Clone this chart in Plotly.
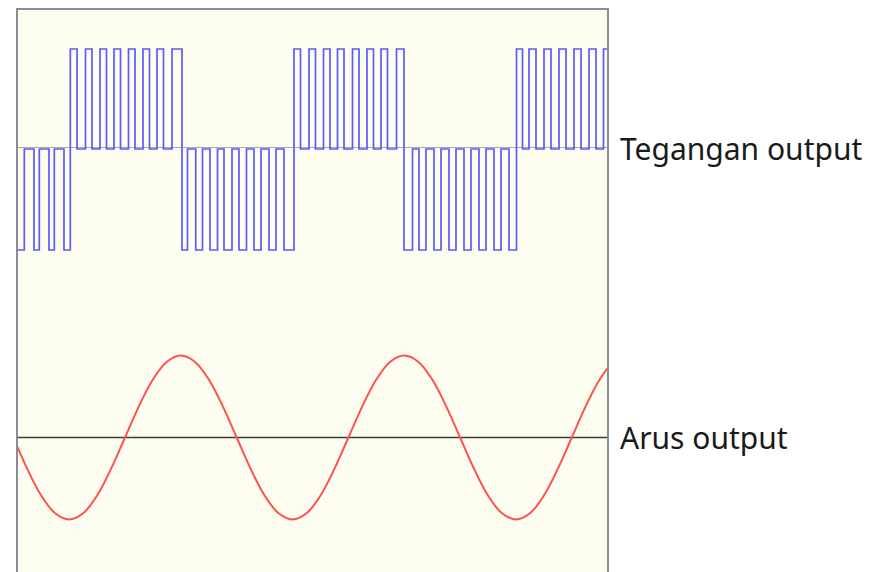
import plotly.graph_objects as go

# ---- data (time axis in arbitrary units, 0 = left edge of plot) ----
# voltage levels
v_high = 523
v_mid = 423
v_low = 322
v_ref_line = 424.5          # light grey reference line of the voltage trace
i_zero = 134.5              # zero line of the current trace

# PWM pulse segments: (polarity, list of [on, off] times)
seg_polarity = [-1, 1, -1, 1, -1, 1]
seg_pulses = [
    [[-1, 6.3], [16, 21.3], [31, 36.3], [46, 52.3]],
    [[52.3, 59], [67.5, 74], [82, 88.5], [96, 102.5], [110.5, 117], [125, 131.5], [139, 145.5], [154, 164]],
    [[164, 169.5], [177.75, 184.5], [192, 199.5], [206, 214], [221, 228.5], [236, 243], [251, 258], [266, 276]],
    [[276, 282.5], [291, 297.5], [305.5, 312], [319.5, 326], [334.5, 341], [349, 355.5], [363, 369.5], [378.5, 386]],
    [[386, 394.5], [401, 408], [416, 423], [431, 438], [446, 453], [461, 468], [476, 483], [491, 498.5]],
    [[498.5, 504.5], [511, 518], [526, 533], [541, 548], [556, 563], [571, 578], [585.5, 593]],
]

# current (sine)
cur_t = [-32.6, -18.7, -4.7, 9.3, 23.2, 37.2, 51.2, 65.1, 79.1, 93.0,
         107.0, 121.0, 134.9, 148.9, 162.9, 176.8, 190.8, 204.7, 218.7, 232.7,
         246.6, 260.6, 274.6, 288.5, 302.5, 316.4, 330.4, 344.4, 358.3, 372.3,
         386.3, 400.2, 414.2, 428.1, 442.1, 456.1, 470.0, 484.0, 498.0, 511.9,
         525.9, 539.8, 553.8, 567.8, 581.7, 595.7, 609.7]
cur_v = [192.5, 165.9, 134.5, 103.1, 76.5, 58.7, 52.5, 58.7, 76.5, 103.1,
         134.5, 165.9, 192.5, 210.3, 216.5, 210.3, 192.5, 165.9, 134.5, 103.1,
         76.5, 58.7, 52.5, 58.7, 76.5, 103.1, 134.5, 165.9, 192.5, 210.3,
         216.5, 210.3, 192.5, 165.9, 134.5, 103.1, 76.5, 58.7, 52.5, 58.7,
         76.5, 103.1, 134.5, 165.9, 192.5, 210.3, 216.5]

labels = ["Tegangan output", "Arus output"]

t_min, t_max = 0, 589
y_min, y_max = 0, 562

# ---- build voltage step trace ----
vx, vy = [], []
for pol, pulses in zip(seg_polarity, seg_pulses):
    active = v_high if pol > 0 else v_low
    for on, off in pulses:
        vx += [on, on, off, off]
        vy += [v_mid, active, active, v_mid]

fig = go.Figure()

fig.add_trace(go.Scatter(x=[t_min - 10, t_max + 10], y=[v_ref_line, v_ref_line], mode="lines",
                         line=dict(color="#a8a8a8", width=1), hoverinfo="skip"))
fig.add_trace(go.Scatter(x=[t_min - 10, t_max + 10], y=[i_zero, i_zero], mode="lines",
                         line=dict(color="#3a3a3a", width=1.6), hoverinfo="skip"))
fig.add_trace(go.Scatter(x=vx, y=vy, mode="lines",
                         line=dict(color="#5a5aff", width=1.7), hoverinfo="skip"))
fig.add_trace(go.Scatter(x=cur_t, y=cur_v, mode="lines",
                         line=dict(color="#ff5050", width=2, shape="spline", smoothing=1.0),
                         hoverinfo="skip"))

for txt, yv in zip(labels, [v_mid + 1, i_zero]):
    fig.add_annotation(text=txt, xref="paper", x=1, xanchor="left", xshift=11,
                       yref="y", y=yv, yanchor="middle", showarrow=False,
                       font=dict(family="Noto Sans", size=30, color="#1a1a1a"))

fig.update_layout(
    width=871, height=564,
    margin=dict(l=10, r=272, t=2, b=0),
    paper_bgcolor="white",
    plot_bgcolor="#fefef0",
    showlegend=False,
    xaxis=dict(range=[t_min, t_max], side="top", showline=True, linecolor="#8c8c98",
               linewidth=2, showgrid=False, zeroline=False, showticklabels=False, ticks=""),
    yaxis=dict(range=[y_min, y_max], showline=True, mirror=True, linecolor="#8c8c98",
               linewidth=2, showgrid=False, zeroline=False, showticklabels=False, ticks=""),
)

fig.write_html("out.html")
